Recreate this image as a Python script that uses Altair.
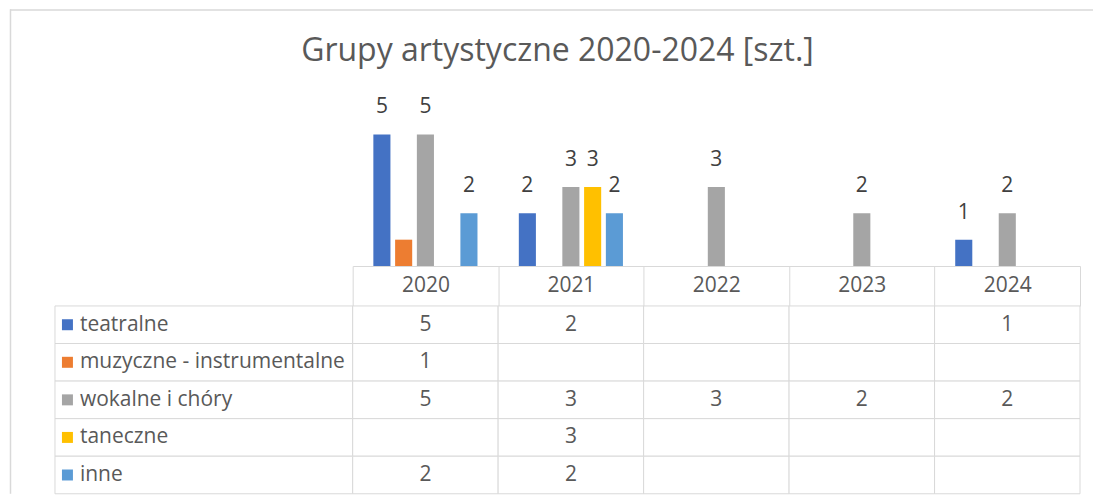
import altair as alt
import pandas as pd

TITLE = "Grupy artystyczne 2020-2024 [szt.]"
years = ["2020", "2021", "2022", "2023", "2024"]
series = ["teatralne", "muzyczne - instrumentalne", "wokalne i chóry", "taneczne", "inne"]
teatralne = [5, 2, None, None, 1]
muzyczne = [1, None, None, None, None]
wokalne = [5, 3, 3, 2, 2]
taneczne = [None, 3, None, None, None]
inne = [2, 2, None, None, None]
colors = ["#4472C4", "#ED7D31", "#A5A5A5", "#FFC000", "#5B9BD5"]
labelled = ["teatralne", "wokalne i chóry", "taneczne", "inne"]

values = [teatralne, muzyczne, wokalne, taneczne, inne]
rows = []
for s, vals in zip(series, values):
    for y, v in zip(years, vals):
        rows.append({"year": y, "series": s, "value": v})
df = pd.DataFrame(rows)
df_vals = df.dropna(subset=["value"]).copy()
df_vals["label"] = df_vals["value"].astype(int).astype(str)
df_labels = df_vals[df_vals["series"].isin(labelled)]
df_series = pd.DataFrame({"series": series})

FONT = "Open Sans"
GRID = "#D9D9D9"
TXT = "#595959"
W = 1086
X_RANGE = [345, 1073]

xscale = alt.Scale(domain=years, range=X_RANGE, paddingInner=0, paddingOuter=0)
xoff = alt.XOffset("series:N", scale=alt.Scale(domain=series, paddingInner=0.215, paddingOuter=0.95))
color = alt.Color("series:N", scale=alt.Scale(domain=series, range=colors), legend=None)
yscale = alt.Scale(domain=[0, 6], range=[257, 99])

one = pd.DataFrame({"t": [TITLE]})

bars = alt.Chart(df_vals).mark_bar().encode(
    x=alt.X("year:N", scale=xscale, sort=years,
            axis=alt.Axis(title=None, orient="bottom", domainColor=GRID, domainWidth=1,
                          tickColor=GRID, tickBand="extent", tickSize=40, tickWidth=1,
                          labelFont=FONT, labelFontSize=21, labelColor=TXT,
                          labelPadding=-20, labelBaseline="middle", labelAngle=0, grid=False)),
    xOffset=xoff,
    y=alt.Y("value:Q", scale=yscale, axis=None),
    color=color,
)
bar_text = alt.Chart(df_labels).mark_text(font=FONT, fontSize=21, color="#404040",
                                           baseline="middle", dy=-27).encode(
    x=alt.X("year:N", scale=xscale, sort=years),
    xOffset=xoff,
    y=alt.Y("value:Q", scale=yscale),
    text="label:N",
)
title = alt.Chart(one).mark_text(font=FONT, fontSize=32, color=TXT, align="center",
                                 baseline="middle").encode(
    x=alt.value(550), y=alt.value(42), text="t:N")
frame_v1 = alt.Chart(one).mark_rule(color=GRID, strokeWidth=1.5).encode(
    x=alt.value(2.5), y=alt.value(0), y2=alt.value(297))
frame_h = alt.Chart(one).mark_rule(color=GRID, strokeWidth=1.5).encode(
    x=alt.value(2), x2=alt.value(W), y=alt.value(0.75))

top = alt.layer(frame_h, frame_v1, title, bars, bar_text).properties(width=W, height=257)

# table
yrow = alt.Y("series:N", scale=alt.Scale(domain=series, paddingInner=0, paddingOuter=0), axis=None)
cells = alt.Chart(df).mark_rect(fill="white", stroke=GRID, strokeWidth=1).encode(
    x=alt.X("year:N", scale=xscale, sort=years, axis=None),
    y=yrow,
)
cell_text = alt.Chart(df_vals).mark_text(font=FONT, fontSize=21, color=TXT).encode(
    x=alt.X("year:N", scale=xscale, sort=years),
    y=yrow,
    text="label:N",
)
label_cells = alt.Chart(df_series).mark_rect(fill="white", stroke=GRID, strokeWidth=1).encode(
    x=alt.value(47), x2=alt.value(345), y=yrow)
swatches = alt.Chart(df_series).mark_square(size=121, opacity=1).encode(
    x=alt.value(59.5), y=yrow, color=color)
label_text = alt.Chart(df_series).mark_text(font=FONT, fontSize=21, color=TXT, align="left").encode(
    x=alt.value(72), y=yrow, text="series:N")
frame_v2 = alt.Chart(one).mark_rule(color=GRID, strokeWidth=1.5).encode(
    x=alt.value(2.5), y=alt.value(0), y2=alt.value(188))

bottom = alt.layer(frame_v2, label_cells, cells, cell_text, swatches, label_text).properties(
    width=W, height=188)

chart = alt.vconcat(top, bottom, spacing=40, bounds="flush").resolve_scale(
    x="independent", y="independent", color="shared"
).properties(padding=0).configure(background="white").configure_view(stroke=None)

chart.save("out.html", embed_options={"renderer": "svg", "actions": False})
